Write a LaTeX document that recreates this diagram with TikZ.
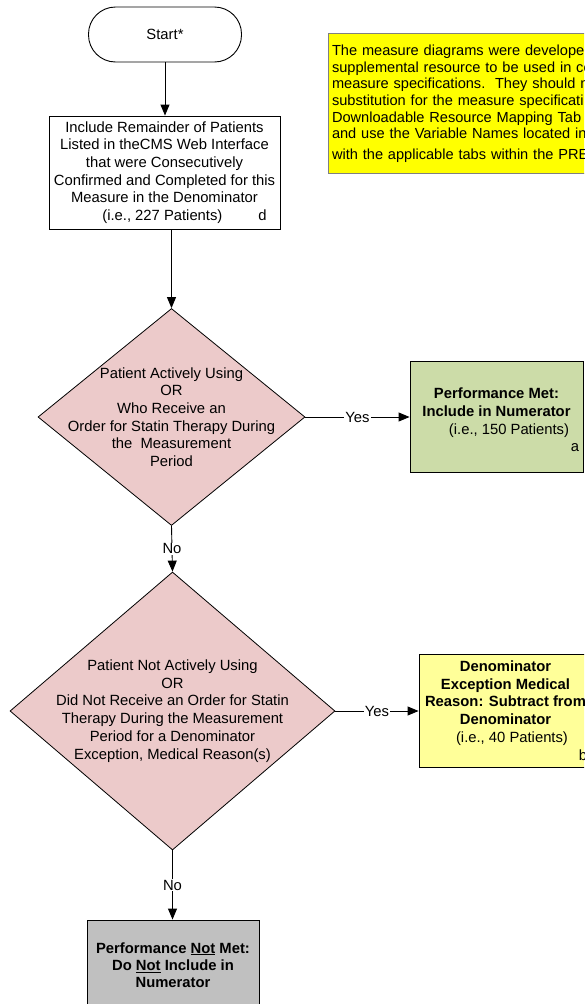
\documentclass[tikz,border=0pt]{standalone}
\usepackage{fontspec}
\setmainfont{Liberation Sans}
\usepackage{tikz}
\usetikzlibrary{positioning,arrows.meta,shapes.geometric}
\definecolor{decpink}{RGB}{236,202,202}
\definecolor{metgreen}{RGB}{204,220,168}
\definecolor{excyellow}{RGB}{255,255,153}
\definecolor{noteyellow}{RGB}{255,255,0}
\definecolor{notmetgray}{RGB}{192,192,192}

\begin{document}
\begin{tikzpicture}[
    x=1pt, y=-1pt,
    font=\fontsize{14.8}{17.7}\selectfont,
    startbox/.style={draw, line width=0.9pt, rounded corners=27pt, minimum width=153pt, minimum height=55pt},
    stepbox/.style={draw, line width=0.9pt, align=center, inner sep=0pt, minimum width=173pt, minimum height=113pt},
    decision/.style={diamond, draw, line width=0.8pt, fill=decpink, inner sep=0pt},
    dectext/.style={align=center, inner sep=0pt},
    arrow/.style={-{Triangle[length=11pt,width=9pt]}, line width=0.9pt},
    answer/.style={fill=white, inner sep=1pt}
]
    \clip (0,0) rectangle (584,1004);
    \fill[white] (0,0) rectangle (584,1004);

    \node[startbox] (start) at (165,34.5) {Start*};
    \node[draw=gray, line width=1pt, fill=noteyellow, align=left, text width=300pt, inner xsep=4pt,
          minimum height=140pt, font=\fontsize{14.6}{16.7}\selectfont] (note) at (482,103.5)
        {The measure diagrams were develope\\supplemental resource to be used in co\\measure specifications.\ \ They should n\\substitution for the measure specificati\\Downloadable Resource Mapping Tab\\and use the Variable Names located in\\[3.5pt]with the applicable tabs within the PRE};
    \node[stepbox, minimum width=231pt] (include) at (164.5,172.5)
        {Include Remainder of Patients\\Listed in theCMS Web Interface\\that were Consecutively\\Confirmed and Completed for this\\Measure in the Denominator\\\hspace*{40pt}(i.e., 227 Patients)\hspace{36pt}d};
    \node[decision, minimum width=267pt, minimum height=217pt,
          label={[dectext]center:Patient Actively Using\\OR\\Who Receive an\\Order for Statin Therapy During\\the\ \ Measurement\\Period}] (using) at (171.5,417) {};
    \node[stepbox, fill=metgreen, minimum height=111pt] (met) at (496.5,416.5)
        {\mbox{}\\\textbf{Performance Met:}\\\textbf{Include in Numerator}\\\hspace*{25pt}(i.e., 150 Patients)\\\hspace*{157pt}a};
    \node[decision, minimum width=325pt, minimum height=278pt,
          label={[dectext]center:Patient Not Actively Using\\OR\\Did Not Receive an Order for Statin\\Therapy During the Measurement\\Period for a Denominator\\Exception, Medical Reason(s)}] (notusing) at (172.5,711) {};
    \node[stepbox, fill=excyellow] (exception) at (505.5,710.5)
        {\textbf{Denominator}\\\textbf{Exception Medical}\\\textbf{Reason: Subtract from}\\\textbf{Denominator}\\\hspace*{13pt}(i.e., 40 Patients)\\\hspace*{155pt}b};
    \node[stepbox, fill=notmetgray, minimum width=172pt, minimum height=90pt, font=\bfseries\fontsize{14.8}{17.2}\selectfont] (notmet) at (173,965)
        {Performance \underline{Not} Met:\\Do \underline{Not} Include in\\Numerator};

    \draw[arrow] (start.south) -- (start.south |- include.north);
    \draw[arrow] (include.south -| using.north) -- (using.north);
    \draw[arrow] (using.east) -- node[answer]{Yes} (using.east -| met.west);
    \draw[arrow] (using.south) -- node[answer]{No} (notusing.north);
    \draw[arrow] (notusing.east) -- node[answer]{Yes} (notusing.east -| exception.west);
    \draw[arrow] (notusing.south) -- node[answer]{No} (notusing.south |- notmet.north);
\end{tikzpicture}
\end{document}
